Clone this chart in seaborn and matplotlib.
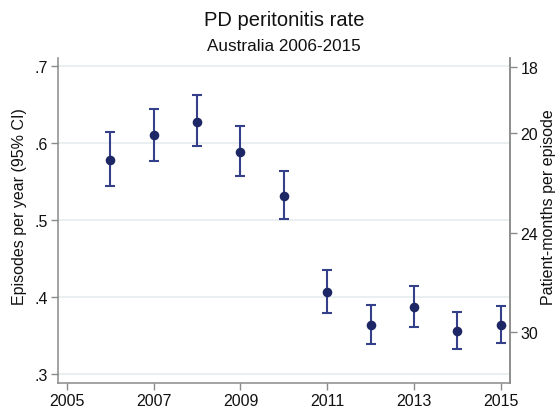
import matplotlib
matplotlib.use("Agg")
import matplotlib.pyplot as plt
import seaborn as sns
import pandas as pd

years = [2006, 2007, 2008, 2009, 2010, 2011, 2012, 2013, 2014, 2015]
rate = [0.578, 0.611, 0.628, 0.589, 0.531, 0.406, 0.364, 0.387, 0.356, 0.364]
ci_low = [0.544, 0.577, 0.596, 0.558, 0.501, 0.379, 0.339, 0.361, 0.333, 0.340]
ci_high = [0.614, 0.645, 0.663, 0.623, 0.564, 0.435, 0.390, 0.414, 0.381, 0.388]

left_ticks = [0.3, 0.4, 0.5, 0.6, 0.7]
left_labels = [".3", ".4", ".5", ".6", ".7"]
x_ticks = [2005, 2007, 2009, 2011, 2013, 2015]
right_ticks = [18, 20, 24, 30]

df = pd.DataFrame({"year": years, "rate": rate, "lo": ci_low, "hi": ci_high})

sns.set_theme(style="white")
plt.rcParams["font.family"] = ["Liberation Sans", "DejaVu Sans"]

W, H = 558, 414
fig = plt.figure(figsize=(W / 100, H / 100), dpi=100)
L, R, T, B = 58.3, 510, 59, 384
ax = fig.add_axes([L / W, 1 - B / H, (R - L) / W, (B - T) / H])

navy = "#1d2766"
bar_col = "#34408a"
spine_col = "#8a8a8a"
txt = "#111111"

ax.errorbar(df["year"], df["rate"],
            yerr=[df["rate"] - df["lo"], df["hi"] - df["rate"]],
            fmt="none", ecolor=bar_col, elinewidth=1.5, capsize=3.4, capthick=1.5, zorder=2)
sns.scatterplot(data=df, x="year", y="rate", ax=ax, color=navy, s=48,
                edgecolor=navy, linewidth=0, zorder=3)

ax.set_xlim(2004.80, 2015.214)
ax.set_ylim(0.2882, 0.7108)
ax.set_xticks(x_ticks)
ax.set_xticklabels([str(t) for t in x_ticks])
ax.set_yticks(left_ticks)
ax.set_yticklabels(left_labels)
for v in left_ticks:
    ax.axhline(v, color="#e6eeef", lw=1.2, zorder=0)
ax.set_xlabel("")
ax.set_ylabel("")

ax.tick_params(axis="both", which="major", length=5, width=1, color=spine_col,
               labelsize=11.5, labelcolor=txt, direction="out",
               left=True, bottom=True, pad=2.5)
for s in ["left", "bottom", "right"]:
    ax.spines[s].set_color(spine_col)
    ax.spines[s].set_linewidth(1.1)
ax.spines["top"].set_visible(False)

# right axis: patient-months per episode (reciprocal scale)
ax2 = ax.twinx()
ax2.set_ylim(0.02906, 0.05631)
ax2.set_yticks([1.0 / t for t in right_ticks])
ax2.set_yticklabels([str(t) for t in right_ticks])
ax2.tick_params(axis="y", length=5, width=1, color=spine_col, labelsize=11.5,
                labelcolor=txt, right=True, direction="out", pad=2.5)
ax2.set_ylabel("")
for s in ["left", "bottom", "top"]:
    ax2.spines[s].set_visible(False)
ax2.spines["right"].set_color(spine_col)
ax2.spines["right"].set_linewidth(1.1)
ax2.grid(False)

fig.text(20 / W, 1 - 207 / H, "Episodes per year (95% CI)", rotation=90,
         ha="center", va="center", fontsize=11.5, color=txt)
fig.text(548 / W, 1 - 207.5 / H, "Patient-months per episode", rotation=90,
         ha="center", va="center", fontsize=11.5, color=txt)

fig.text(284 / W, 1 - 21 / H, "PD peritonitis rate", ha="center", va="center",
         fontsize=14.5, color=txt)
fig.text(284 / W, 1 - 46.5 / H, "Australia 2006-2015", ha="center", va="center",
         fontsize=12.3, color=txt)

fig.savefig("out.png", dpi=100)
